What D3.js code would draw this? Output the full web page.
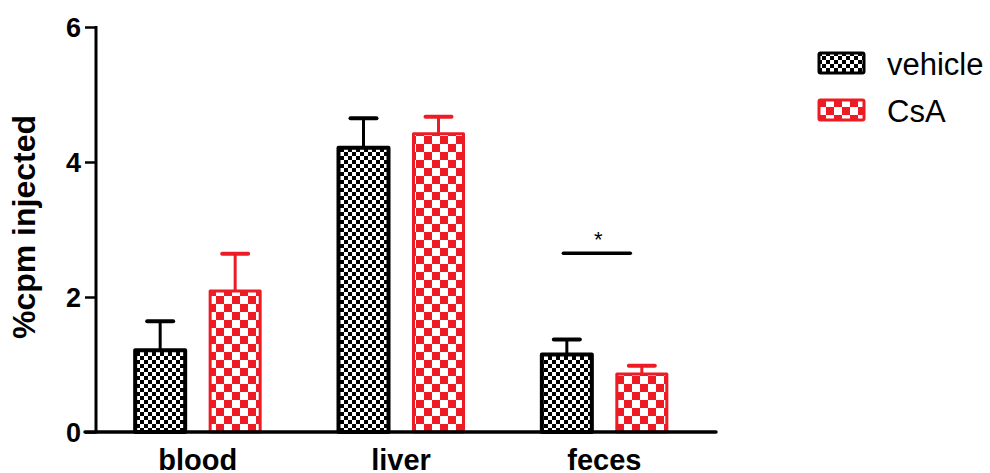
<!DOCTYPE html>
<html>
<head>
<meta charset="utf-8">
<script src="https://cdn.jsdelivr.net/npm/d3@7"></script>
<style>
  body { margin: 0; background: #fff; }
  text { font-family: "Liberation Sans", Arial, sans-serif; }
</style>
</head>
<body>
<div id="chart"></div>
<script>
var tissues = ["blood", "liver", "feces"];
var groups = ["vehicle", "CsA"];
var vehicleMeans = [1.21, 4.21, 1.15];
var vehicleErr = [0.43, 0.44, 0.22];
var csaMeans = [2.09, 4.42, 0.86];
var csaErr = [0.55, 0.25, 0.12];
var yTicks = [0, 2, 4, 6];

(function () {
    "use strict";
    const width = 990, height = 473;
    const colors = { vehicle: "#000000", CsA: "#ed1c24" };

    var svg = d3.select("#chart").append("svg")
        .attr("width", width)
        .attr("height", height);

    var defs = svg.append("defs");
    // fine black checker for vehicle
    var p1 = defs.append("pattern").attr("id", "pat-vehicle")
        .attr("width", 8).attr("height", 8).attr("patternUnits", "userSpaceOnUse");
    p1.append("rect").attr("width", 8).attr("height", 8).attr("fill", "#fff");
    p1.append("rect").attr("width", 4).attr("height", 4).attr("fill", "#000");
    p1.append("rect").attr("x", 4).attr("y", 4).attr("width", 4).attr("height", 4).attr("fill", "#000");
    // coarse red checker for CsA
    var p2 = defs.append("pattern").attr("id", "pat-CsA")
        .attr("width", 16).attr("height", 16).attr("patternUnits", "userSpaceOnUse");
    p2.append("rect").attr("width", 16).attr("height", 16).attr("fill", "#fff");
    p2.append("rect").attr("width", 8).attr("height", 8).attr("fill", colors.CsA);
    p2.append("rect").attr("x", 8).attr("y", 8).attr("width", 8).attr("height", 8).attr("fill", colors.CsA);

    var y = d3.scaleLinear().domain([0, 6]).range([432, 27]);
    var x0 = d3.scaleBand().domain(tissues).range([96, 706]);
    var x1 = d3.scaleBand().domain(groups).range([-64, 64]).paddingInner(0.293);

    var data = [];
    tissues.forEach(function (t, i) {
        data.push({ tissue: t, group: "vehicle", value: vehicleMeans[i], err: vehicleErr[i] });
        data.push({ tissue: t, group: "CsA", value: csaMeans[i], err: csaErr[i] });
    });

    function cx(d) { return x0(d.tissue) + x0.bandwidth() / 2 + x1(d.group); }

    // error bars (upper only)
    var eb = svg.append("g");
    data.forEach(function (d) {
        var mid = cx(d) + x1.bandwidth() / 2;
        eb.append("line")
            .attr("x1", mid).attr("x2", mid)
            .attr("y1", y(d.value)).attr("y2", y(d.value + d.err))
            .attr("stroke", colors[d.group]).attr("stroke-width", 3);
        eb.append("line")
            .attr("x1", mid - 13).attr("x2", mid + 13)
            .attr("y1", y(d.value + d.err)).attr("y2", y(d.value + d.err))
            .attr("stroke", colors[d.group]).attr("stroke-width", 4)
            .attr("stroke-linecap", "round");
    });

    // bars
    svg.append("g").selectAll("rect")
        .data(data)
        .enter().append("rect")
        .attr("x", function (d) { return cx(d) + 1.5; })
        .attr("y", function (d) { return y(d.value); })
        .attr("width", x1.bandwidth() - 3)
        .attr("height", function (d) { return y(0) - y(d.value); })
        .attr("fill", function (d) { return "url(#pat-" + d.group + ")"; })
        .attr("stroke", function (d) { return colors[d.group]; })
        .attr("stroke-width", function (d) { return d.group === "vehicle" ? 4 : 3; })
        .attr("stroke-linejoin", "round");

    // axes
    var yAxis = d3.axisLeft(y).tickValues(yTicks).tickSize(11).tickPadding(4).tickFormat(d3.format("d"));
    var gy = svg.append("g").attr("transform", "translate(96,0)").call(yAxis);
    gy.select(".domain").remove();
    gy.selectAll(".tick line").attr("stroke", "#000").attr("stroke-width", 2.5);
    gy.selectAll(".tick text")
        .attr("font-size", 27).attr("font-weight", "bold").attr("fill", "#000")
        .attr("dy", "0.35em");
    svg.append("line").attr("x1", 96).attr("x2", 96).attr("y1", y(6) - 1).attr("y2", y(0) + 1.5)
        .attr("stroke", "#000").attr("stroke-width", 3);
    svg.append("line").attr("x1", 85).attr("x2", 716).attr("y1", y(0)).attr("y2", y(0))
        .attr("stroke", "#000").attr("stroke-width", 3.5).attr("stroke-linecap", "round");

    // x labels
    svg.append("g").selectAll("text")
        .data(tissues)
        .enter().append("text")
        .attr("x", function (d) { return x0(d) + x0.bandwidth() / 2; })
        .attr("y", 470)
        .attr("text-anchor", "middle")
        .attr("font-size", 29).attr("font-weight", "bold")
        .text(function (d) { return d; });

    // y title
    svg.append("text")
        .attr("transform", "translate(35,227) rotate(-90)")
        .attr("text-anchor", "middle")
        .attr("font-size", 32).attr("font-weight", "bold")
        .text("%cpm injected");

    // significance
    var fx = x0("feces") + x0.bandwidth() / 2;
    svg.append("line").attr("x1", fx - 41).attr("x2", fx + 26)
        .attr("y1", y(2.65)).attr("y2", y(2.65))
        .attr("stroke", "#000").attr("stroke-width", 3.5).attr("stroke-linecap", "round");
    svg.append("text").attr("x", fx - 6).attr("y", 247)
        .attr("text-anchor", "middle").attr("font-size", 22).text("*");

    // legend
    var leg = svg.append("g").attr("transform", "translate(818,52)");
    groups.forEach(function (g, i) {
        var row = leg.append("g").attr("transform", "translate(0," + (i * 47) + ")");
        row.append("rect").attr("x", 1).attr("y", 1).attr("width", 45).attr("height", 20)
            .attr("rx", 1.5)
            .attr("fill", "url(#pat-" + g + ")")
            .attr("stroke", colors[g]).attr("stroke-width", 3);
        row.append("text").attr("x", 69).attr("y", 23)
            .attr("font-size", 31).attr("fill", "#000").text(g);
    });
})();
</script>
</body>
</html>
